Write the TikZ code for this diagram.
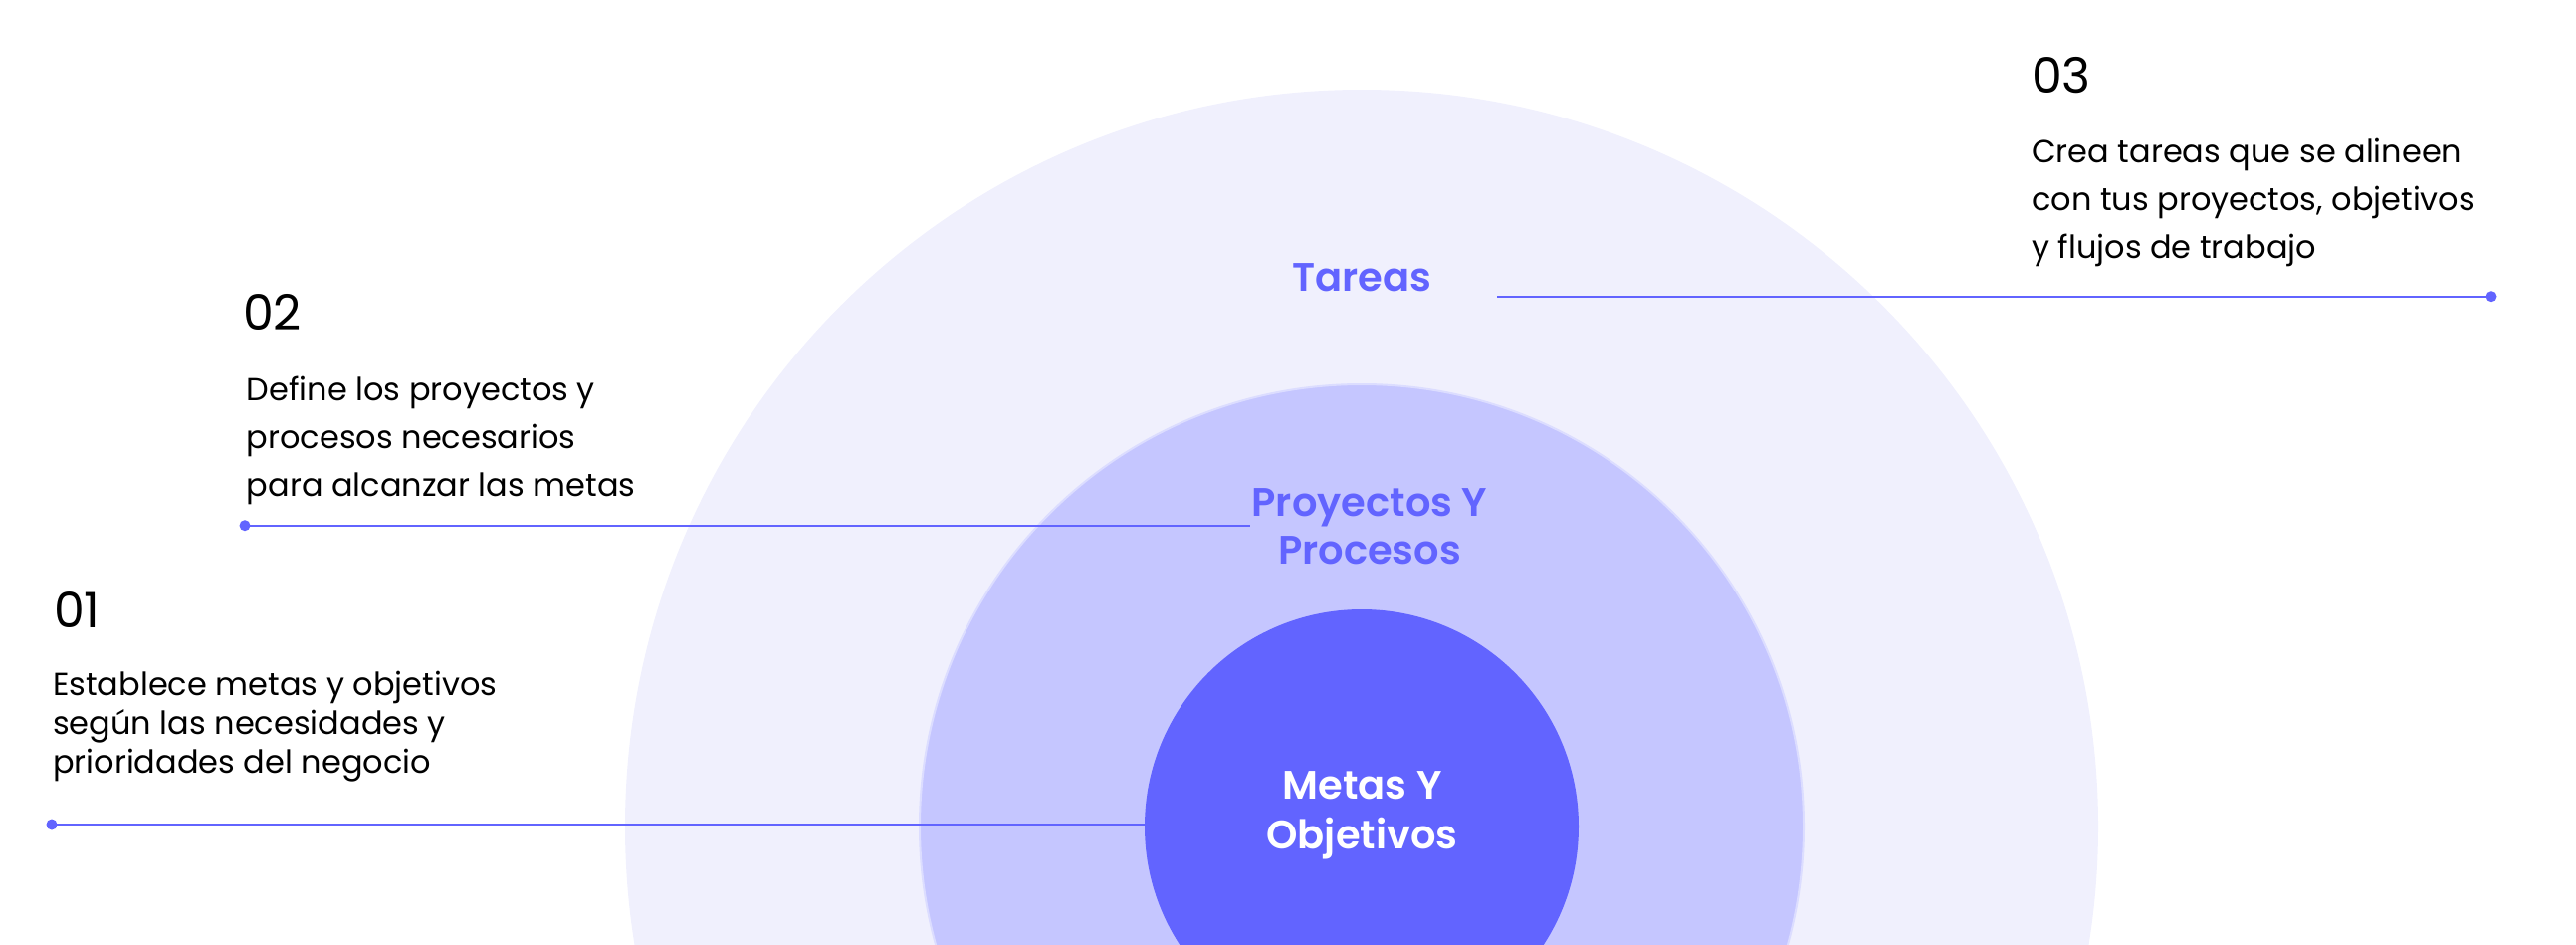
\documentclass[tikz,border=0pt]{standalone}
\usepackage{fontspec}
\setmainfont{Poppins}
\newfontfamily\popsemi{Poppins SemiBold}
\definecolor{ringout}{HTML}{F0F0FD}
\definecolor{ringmid}{HTML}{C5C6FF}
\definecolor{ringin}{HTML}{6264FF}
\definecolor{accent}{HTML}{6264FF}
\begin{document}
\begin{tikzpicture}[x=1pt,y=-1pt,
  ring/.style={circle,inner sep=0pt,outer sep=0pt},
  numlabel/.style={anchor=base west,inner sep=0pt,font=\fontsize{49}{60}\selectfont,text=black},
  bodytxt/.style={anchor=base west,inner sep=0pt,align=left,text=black},
  ringlabel/.style={anchor=base,inner sep=0pt,align=center,text=accent},
  leader/.style={draw=accent,line width=2pt},
  dotend/.style={fill=accent}]
\useasboundingbox (0,0) rectangle (2588,948);
\begin{scope}
\clip (0,0) rectangle (2588,948);
\node[ring,fill=ringout,minimum size=1480pt] (outer) at (1368,830) {};
\node[ring,fill=ringmid,draw=ringmid!60!white,line width=2pt,minimum size=888pt] (middle) at (1368,830) {};
\node[ring,fill=ringin,minimum size=436pt] (inner) at (1368,830) {};
\end{scope}
% labels in rings (anchor = baseline of last line)
\node[ringlabel,font=\popsemi\fontsize{40}{48}\selectfont] (ltareas) at (1368,292) {Tareas};
\node[ringlabel,font=\popsemi\fontsize{40}{48}\selectfont] (lproy) at (1376,566) {Proyectos Y\\Procesos};
\node[ringlabel,font=\popsemi\fontsize{40}{50}\selectfont,text=white] (lmetas) at (1368.5,852) {Metas Y\\Objetivos};
% numbers
\node[numlabel] (n1) at (54,630) {01};
\node[numlabel] (n2) at (244,331.7) {02};
\node[numlabel] (n3) at (2041,93.3) {03};
% body texts (anchor = baseline of last line)
\node[bodytxt,font=\fontsize{32}{39.3}\selectfont] (t1) at (53,776.7) {Establece metas y objetivos\\según las necesidades y\\prioridades del negocio};
\node[bodytxt,font=\fontsize{32}{47.7}\selectfont] (t2) at (247.7,498.1) {Define los proyectos y\\procesos necesarios\\para alcanzar las metas};
\node[bodytxt,font=\fontsize{32}{48.3}\selectfont] (t3) at (2041,259.9) {Crea tareas que se alineen\\con tus proyectos, objetivos\\y flujos de trabajo};
% leaders
\coordinate (d1) at (52,828);
\coordinate (d2) at (246,527.7);
\coordinate (e2) at (1256,527.7);
\coordinate (e3) at (1504,297.7);
\coordinate (d3) at (2503,297.7);
\draw[leader] (d1) -- (d1 -| inner.west);
\draw[leader] (d2) -- (e2);
\draw[leader] (e3) -- (d3);
\fill[dotend] (d1) circle (5.5);
\fill[dotend] (d2) circle (5.5);
\fill[dotend] (d3) circle (5.5);
\end{tikzpicture}
\end{document}
